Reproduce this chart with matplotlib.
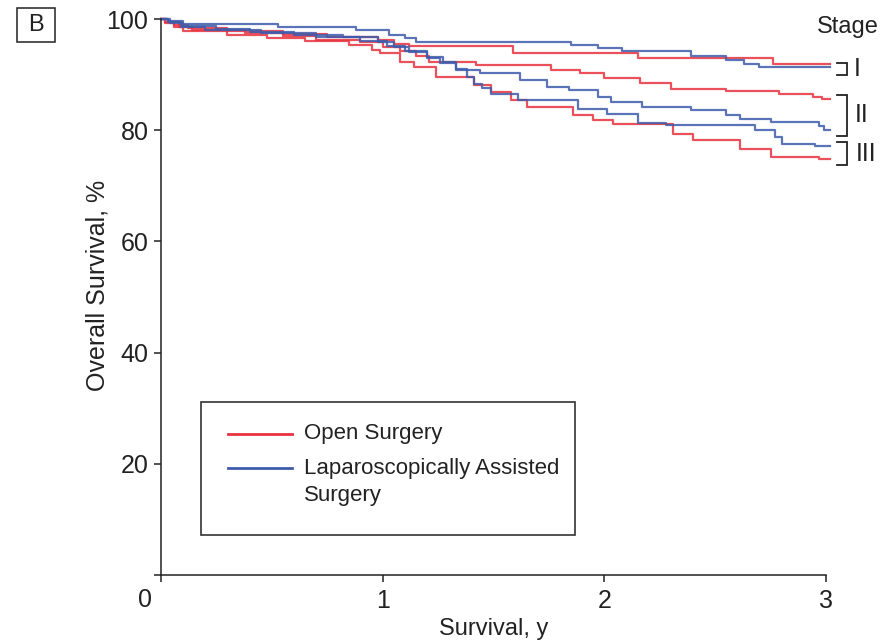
import matplotlib
matplotlib.use("Agg")
import matplotlib.pyplot as plt
from matplotlib.patches import Rectangle
from matplotlib import font_manager

# Narrow sans font if available
_names = {f.name for f in font_manager.fontManager.ttflist}
_family = [n for n in ["Liberation Sans Narrow", "Liberation Sans", "DejaVu Sans"] if n in _names]
plt.rcParams["font.family"] = _family

# Kaplan-Meier step data (years, overall survival %)
stage1_open_t = [0, 0.02, 0.06, 0.12, 0.30, 0.55, 0.75, 0.98, 1.05, 1.12, 1.59, 2.15, 2.76, 3.02]
stage1_open_s = [100, 99.5, 98.9, 98.3, 97.8, 97.3, 96.7, 96.2, 95.5, 95.1, 93.8, 92.9, 91.9, 91.9]

stage1_lap_t = [0, 0.03, 0.10, 0.53, 0.88, 1.03, 1.10, 1.15, 1.85, 1.97, 2.08, 2.39, 2.55, 2.63, 2.70, 3.02]
stage1_lap_s = [100, 99.6, 99.1, 98.6, 98.0, 97.2, 96.6, 95.9, 95.3, 94.8, 94.3, 93.3, 92.6, 91.9, 91.3, 91.3]

stage2_open_t = [0, 0.03, 0.08, 0.14, 0.38, 0.55, 0.70, 0.90, 1.00, 1.08, 1.15, 1.21, 1.42, 1.76,
                 1.89, 2.00, 2.16, 2.30, 2.55, 2.79, 2.94, 2.98, 3.02]
stage2_open_s = [100, 99.4, 98.6, 98.0, 97.4, 96.9, 96.3, 95.8, 95.0, 94.3, 93.4, 92.3, 91.7, 90.8,
                 90.2, 89.3, 88.4, 87.4, 87.0, 86.6, 86.0, 85.6, 85.6]

stage2_lap_t = [0, 0.04, 0.10, 0.25, 0.40, 0.60, 0.82, 0.98, 1.05, 1.12, 1.20, 1.26, 1.33, 1.44,
                1.62, 1.74, 1.84, 1.97, 2.03, 2.17, 2.39, 2.55, 2.61, 2.75, 2.97, 2.99, 3.02]
stage2_lap_s = [100, 99.3, 98.8, 98.2, 97.7, 97.2, 96.7, 95.9, 95.0, 94.0, 93.0, 92.1, 90.8, 90.2,
                89.0, 87.8, 87.2, 86.0, 85.1, 84.2, 83.6, 82.7, 82.1, 81.5, 80.8, 80.0, 80.0]

stage3_lap_t = [0, 0.03, 0.09, 0.20, 0.45, 0.70, 0.90, 1.02, 1.10, 1.20, 1.27, 1.33, 1.38, 1.41,
                1.45, 1.49, 1.61, 1.88, 2.01, 2.15, 2.28, 2.68, 2.77, 2.80, 2.95, 3.02]
stage3_lap_s = [100, 99.5, 98.6, 98.0, 97.5, 96.8, 96.0, 95.2, 94.2, 93.2, 92.2, 91.0, 89.5, 88.3,
                87.5, 86.6, 85.4, 83.9, 83.0, 81.3, 80.9, 80.0, 78.8, 77.6, 77.2, 77.2]

stage3_open_t = [0, 0.02, 0.06, 0.10, 0.30, 0.48, 0.65, 0.85, 0.95, 0.99, 1.08, 1.14, 1.24, 1.41,
                 1.49, 1.58, 1.65, 1.86, 1.95, 2.04, 2.31, 2.40, 2.61, 2.75, 2.97, 3.02]
stage3_open_s = [100, 99.3, 98.5, 97.9, 97.2, 96.5, 96.0, 95.3, 94.5, 93.8, 92.3, 91.4, 89.6, 88.1,
                 86.9, 85.4, 84.2, 82.7, 81.8, 81.2, 79.4, 78.2, 76.7, 75.2, 74.8, 74.8]

x_ticks = [0, 1, 2, 3]
y_ticks = [0, 20, 40, 60, 80, 100]
group_labels = ["Open Surgery", "Laparoscopically Assisted", "Surgery"]
stage_labels = ["I", "II", "III"]

RED = "#e8323e"
BLUE = "#3d5cab"
INK = "#222222"

fig = plt.figure(figsize=(8.89, 6.42), dpi=100)
ax = fig.add_axes([0.1811, 0.1044, 0.7480, 0.8660])

curves = [
    (stage1_open_t, stage1_open_s, RED),
    (stage2_open_t, stage2_open_s, RED),
    (stage3_open_t, stage3_open_s, RED),
    (stage1_lap_t, stage1_lap_s, BLUE),
    (stage2_lap_t, stage2_lap_s, BLUE),
    (stage3_lap_t, stage3_lap_s, BLUE),
]
for t, s, c in curves:
    ax.step(t, s, where="post", color=c, lw=1.6, alpha=0.85, clip_on=False)

ax.set_xlim(0, 3)
ax.set_ylim(0, 100)
ax.set_xticks(x_ticks)
ax.set_xticklabels(["" if v == 0 else str(v) for v in x_ticks])
ax.set_yticks(y_ticks)
ax.set_yticklabels(["" if v == 0 else str(v) for v in y_ticks])
ax.tick_params(axis="both", direction="out", length=5, width=1.1, color=INK,
               labelsize=18, labelcolor=INK)
ax.tick_params(axis="y", pad=4)
ax.tick_params(axis="x", pad=5)
for side in ["top", "right"]:
    ax.spines[side].set_visible(False)
for side in ["left", "bottom"]:
    ax.spines[side].set_linewidth(1.1)
    ax.spines[side].set_color(INK)

ax.text(-0.024, -0.045, "0", transform=ax.transAxes, ha="center", va="center",
        fontsize=18, color=INK)

ax.set_xlabel("Survival, y", fontsize=17, color=INK)
ax.xaxis.set_label_coords(0.5, -0.077)
ax.set_ylabel("Overall Survival, %", fontsize=18, color=INK)
ax.yaxis.set_label_coords(-0.078, 0.52)

# Legend: plain rectangular frame, swatches and labels
ax.add_patch(Rectangle((0.060, 0.072), 0.5626, 0.239, transform=ax.transAxes,
                       fill=False, edgecolor="#333333", lw=1.2, clip_on=False))
ax.plot([0.1008, 0.197], [0.2536, 0.2536], transform=ax.transAxes, color=RED, lw=2)
ax.plot([0.1008, 0.197], [0.1924, 0.1924], transform=ax.transAxes, color=BLUE, lw=2)
for lab, ly in zip(group_labels, [0.2536, 0.1924, 0.1421]):
    ax.text(0.215, ly, lab, transform=ax.transAxes, ha="left", va="center",
            fontsize=16, color=INK)

# Stage brackets to the right of the curves
ax.text(3.10, 98.6, "Stage", ha="center", va="center", fontsize=17, color=INK, clip_on=False)
brackets = [(92.1, 90.0), (86.4, 79.0), (77.8, 73.8)]
label_x = [3.143, 3.16, 3.18]
for (top, bot), lab, lx in zip(brackets, stage_labels, label_x):
    ax.plot([3.049, 3.097, 3.097, 3.049], [top, top, bot, bot], color=INK, lw=1.3,
            clip_on=False, solid_joinstyle="miter")
    ax.text(lx, (top + bot) / 2, lab, ha="center", va="center", fontsize=18,
            color=INK, clip_on=False)

# Panel letter in a square box
fig.add_artist(Rectangle((0.0191, 0.9346), 0.0427, 0.053, transform=fig.transFigure,
                         fill=False, edgecolor=INK, lw=1.1))
fig.text(0.0405, 0.961, "B", ha="center", va="center", fontsize=17, color=INK)

fig.savefig("out.png", dpi=100)
